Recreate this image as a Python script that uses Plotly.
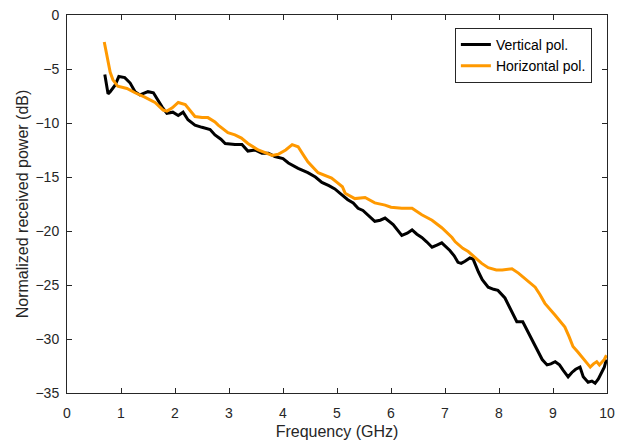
import plotly.graph_objects as go

# Vertical polarisation (black)
v_freq = [0.70, 0.74, 0.76, 0.80, 0.89, 0.96, 1.07, 1.17, 1.26, 1.35, 1.50, 1.60, 1.68, 1.76, 1.85, 1.96, 2.06, 2.15,
          2.24, 2.37, 2.50, 2.65, 2.74, 2.85, 2.93, 3.11, 3.24, 3.35, 3.48, 3.61, 3.73, 3.85, 4.00, 4.10, 4.28, 4.46,
          4.60, 4.72, 4.85, 4.96, 5.08, 5.20, 5.30, 5.39, 5.48, 5.57, 5.70, 5.80, 5.89, 6.04, 6.12, 6.20, 6.30, 6.39,
          6.48, 6.57, 6.66, 6.76, 6.85, 6.94, 7.09, 7.17, 7.24, 7.30, 7.37, 7.46, 7.52, 7.56, 7.62, 7.69, 7.80, 7.90,
          7.98, 8.11, 8.18, 8.24, 8.33, 8.44, 8.52, 8.61, 8.70, 8.80, 8.89, 8.96, 9.04, 9.12, 9.19, 9.28, 9.35, 9.42,
          9.50, 9.56, 9.65, 9.72, 9.78, 9.84, 9.90, 9.95, 9.99]
v_power = [-5.5, -7.0, -7.3, -7.1, -6.5, -5.7, -5.8, -6.3, -7.1, -7.4, -7.1, -7.2, -7.9, -8.5, -9.1, -9.0, -9.3, -9.0,
           -9.7, -10.2, -10.4, -10.6, -11.1, -11.5, -11.9, -12.0, -12.0, -12.6, -12.5, -12.8, -12.8, -13.1, -13.3, -13.7, -14.2, -14.6,
           -15.0, -15.5, -15.8, -16.1, -16.6, -17.1, -17.4, -17.9, -18.1, -18.5, -19.1, -19.0, -18.8, -19.4, -19.9, -20.4, -20.2, -19.9,
           -20.3, -20.6, -21.0, -21.5, -21.3, -21.1, -21.8, -22.3, -22.9, -23.0, -22.8, -22.5, -22.6, -23.1, -23.8, -24.5, -25.2, -25.4,
           -25.5, -26.2, -26.9, -27.6, -28.4, -28.4, -29.2, -30.1, -31.0, -31.9, -32.4, -32.3, -32.1, -32.4, -32.9, -33.5, -33.1, -32.8,
           -32.6, -33.5, -34.0, -33.9, -34.1, -33.7, -33.1, -32.6, -31.9]

# Horizontal polarisation (orange)
h_freq = [0.69, 0.72, 0.76, 0.80, 0.85, 0.94, 1.11, 1.26, 1.44, 1.63, 1.78, 1.85, 1.95, 2.06, 2.19, 2.28, 2.37, 2.50,
          2.61, 2.74, 2.80, 2.98, 3.11, 3.23, 3.35, 3.54, 3.80, 3.91, 4.05, 4.17, 4.28, 4.37, 4.46, 4.65, 4.80, 4.90,
          5.00, 5.10, 5.15, 5.33, 5.52, 5.70, 5.89, 6.00, 6.20, 6.39, 6.57, 6.76, 6.94, 7.13, 7.19, 7.33, 7.43, 7.56,
          7.68, 7.80, 7.95, 8.06, 8.24, 8.36, 8.48, 8.58, 8.67, 8.76, 8.85, 9.04, 9.22, 9.30, 9.37, 9.46, 9.54, 9.62,
          9.69, 9.75, 9.81, 9.86, 9.90, 9.95, 9.99]
h_power = [-2.5, -3.3, -4.4, -5.3, -6.0, -6.6, -6.8, -7.2, -7.6, -8.1, -8.8, -8.9, -8.6, -8.1, -8.3, -8.9, -9.4, -9.5,
           -9.5, -9.9, -10.2, -10.9, -11.1, -11.4, -11.9, -12.5, -13.0, -12.9, -12.5, -12.0, -12.2, -12.9, -13.6, -14.6, -14.9, -15.1,
           -15.5, -15.9, -16.5, -17.0, -16.9, -17.4, -17.6, -17.8, -17.9, -17.9, -18.5, -19.0, -19.7, -20.6, -21.0, -21.6, -21.9, -22.5,
           -23.0, -23.4, -23.6, -23.6, -23.5, -23.9, -24.4, -24.8, -25.2, -25.9, -26.7, -27.8, -28.9, -29.8, -30.7, -31.2, -31.7, -32.2,
           -32.6, -32.3, -32.1, -32.4, -32.2, -31.9, -31.5]

x_ticks = list(range(0, 11))
y_ticks = list(range(-35, 1, 5))

FONT = "Liberation Sans, Arial, Helvetica"
AX = "#262626"

fig = go.Figure()
fig.add_trace(go.Scatter(x=v_freq, y=v_power, mode="lines", name="Vertical pol.",
                         line=dict(color="#000000", width=3)))
fig.add_trace(go.Scatter(x=h_freq, y=h_power, mode="lines", name="Horizontal pol.",
                         line=dict(color="#FF9900", width=3)))

axis_common = dict(showline=True, linecolor=AX, linewidth=1, mirror="ticks", ticks="inside",
                   ticklen=5, tickcolor=AX, showgrid=False, zeroline=False, automargin=False,
                   tickfont=dict(family=FONT, size=14, color=AX))

fig.update_layout(
    width=623, height=444,
    margin=dict(l=67, r=16, t=15, b=51),
    paper_bgcolor="white", plot_bgcolor="white",
    xaxis=dict(range=[0, 10], tickvals=x_ticks, ticklabelstandoff=7,
               title=dict(text="Frequency (GHz)", font=dict(family=FONT, size=16, color=AX), standoff=6),
               **axis_common),
    yaxis=dict(range=[-35, 0], tickvals=y_ticks, ticklabelstandoff=4,
               title=dict(text="Normalized received power (dB)", font=dict(family=FONT, size=16, color=AX), standoff=2),
               **axis_common),
    legend=dict(x=0.972, y=0.966, xanchor="right", yanchor="top", bgcolor="white",
                bordercolor=AX, borderwidth=1,
                font=dict(family=FONT, size=14, color="#000000"),
                tracegroupgap=0, itemwidth=30),
    showlegend=True,
)

fig.write_html("out.html")
